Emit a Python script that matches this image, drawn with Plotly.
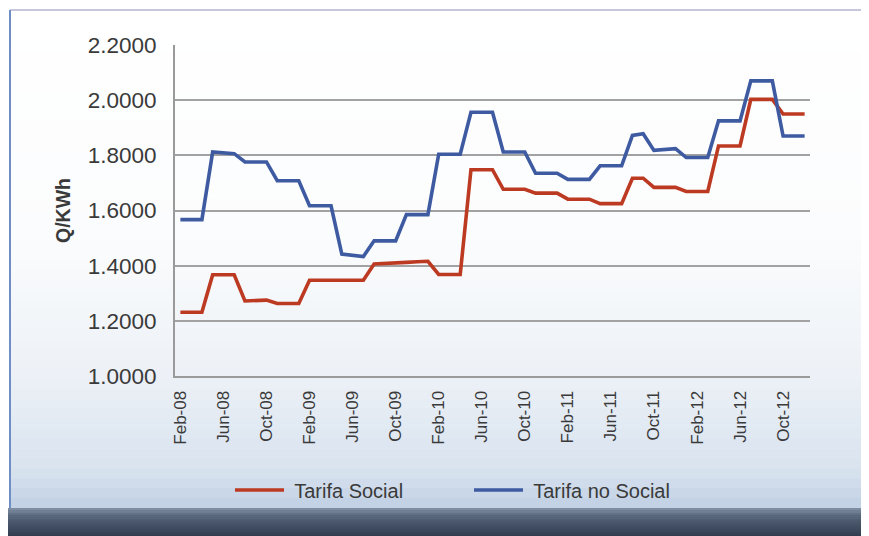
import plotly.graph_objects as go
import pandas as pd

# ---- data (monthly Feb-08 .. Dec-12) ----
months = pd.date_range("2008-02-01", periods=59, freq="MS").strftime("%b-%y").tolist()

tarifa_social = [
    1.231, 1.231, 1.231,          # Feb-Apr 08
    1.367, 1.367, 1.367,          # May-Jul 08
    1.272, 1.274, 1.275,          # Aug-Oct 08
    1.263, 1.263, 1.263,          # Nov 08-Jan 09
    1.347, 1.347, 1.347,          # Feb-Apr 09
    1.347, 1.347, 1.347,          # May-Jul 09
    1.406, 1.407, 1.408,          # Aug-Oct 09
    1.412, 1.414, 1.416,          # Nov 09-Jan 10
    1.368, 1.368, 1.368,          # Feb-Apr 10
    1.748, 1.748, 1.748,          # May-Jul 10
    1.677, 1.677, 1.677,
    1.663, 1.663, 1.663,
    1.641, 1.641, 1.641,
    1.625, 1.625, 1.625,
    1.717, 1.717,
    1.684, 1.684, 1.684,
    1.669, 1.669, 1.669,
    1.834, 1.834, 1.834,
    2.003, 2.003, 2.003,
    1.950, 1.950, 1.950,
]

tarifa_no_social = [
    1.567, 1.567, 1.567,
    1.812, 1.810, 1.806,
    1.776, 1.776, 1.776,
    1.708, 1.708, 1.708,
    1.617, 1.617, 1.617,
    1.442, 1.437, 1.433,
    1.490, 1.490, 1.490,
    1.585, 1.585, 1.585,
    1.804, 1.804, 1.804,
    1.956, 1.956, 1.956,
    1.812, 1.812, 1.812,
    1.735, 1.735, 1.735,
    1.713, 1.713, 1.713,
    1.762, 1.762, 1.762,
    1.872, 1.878,
    1.818, 1.821, 1.824,
    1.792, 1.792, 1.792,
    1.925, 1.925, 1.925,
    2.070, 2.070, 2.070,
    1.870, 1.870, 1.870,
]

tick_labels = months[::4]
y_ticks = [1.0, 1.2, 1.4, 1.6, 1.8, 2.0, 2.2]

RED = "#bd3a22"
BLUE = "#3e5ba2"

OFF = 8                      # page body margin
W, H = 869 - OFF, 536 - OFF  # figure size
# plot area, in page pixels
PL, PR, PT, PB = 175, 810, 45, 376
L, R, T, B = PL - OFF, PR - OFF, PT - OFF, PB - OFF
PW, PH = R - L, B - T


def px_x(px):   # page px -> paper x
    return (px - OFF - L) / PW


def px_y(py):   # page px -> paper y
    return (B - (py - OFF)) / PH


def hex2rgb(h):
    h = h.lstrip("#")
    return tuple(int(h[i:i + 2], 16) for i in (0, 2, 4))


def interp(stops, t):
    for (t0, c0), (t1, c1) in zip(stops, stops[1:]):
        if t0 <= t <= t1:
            f = 0 if t1 == t0 else (t - t0) / (t1 - t0)
            a, b = hex2rgb(c0), hex2rgb(c1)
            return "rgb(%d,%d,%d)" % tuple(round(a[i] + (b[i] - a[i]) * f) for i in range(3))
    return stops[-1][1]


shapes = []
# chart-area gradient background
bg_stops = [(0, "#ffffff"), (0.45, "#fbfcfd"), (0.72, "#eef2f7"), (0.92, "#d9e3ef"), (1.0, "#c0d0e4")]
top, bot, n = 11, 508, 50
for i in range(n):
    y0 = top + (bot - top) * i / n
    y1 = top + (bot - top) * (i + 1) / n
    shapes.append(dict(type="rect", xref="paper", yref="paper", layer="below",
                       x0=px_x(11), x1=px_x(870), y0=px_y(y1 + 0.5), y1=px_y(y0),
                       fillcolor=interp(bg_stops, (i + 0.5) / n), line=dict(width=0)))
# dark bottom band
dk_stops = [(0, "#8494a8"), (0.25, "#56647a"), (1.0, "#2f3b4d")]
top, bot, n = 508, 537, 14
for i in range(n):
    y0 = top + (bot - top) * i / n
    y1 = top + (bot - top) * (i + 1) / n
    shapes.append(dict(type="rect", xref="paper", yref="paper", layer="below",
                       x0=px_x(0), x1=px_x(870), y0=px_y(y1 + 0.5), y1=px_y(y0),
                       fillcolor=interp(dk_stops, (i + 0.5) / n), line=dict(width=0)))
# frame edges
shapes.append(dict(type="line", xref="paper", yref="paper", layer="below",
                   x0=px_x(10), x1=px_x(862), y0=px_y(10), y1=px_y(10),
                   line=dict(color="#c6c6dc", width=2)))
shapes.append(dict(type="line", xref="paper", yref="paper", layer="below",
                   x0=px_x(10), x1=px_x(10), y0=px_y(10), y1=px_y(508),
                   line=dict(color="#6f8fc4", width=2)))
shapes.append(dict(type="line", xref="paper", yref="paper", layer="below",
                   x0=px_x(862), x1=px_x(862), y0=px_y(10), y1=px_y(508),
                   line=dict(color="#d4dcea", width=2)))

fig = go.Figure()
fig.add_trace(go.Scatter(x=months, y=tarifa_social, mode="lines", name=" Tarifa Social",
                         line=dict(color=RED, width=3.6)))
fig.add_trace(go.Scatter(x=months, y=tarifa_no_social, mode="lines", name=" Tarifa no Social",
                         line=dict(color=BLUE, width=3.6)))

font_family = "Liberation Sans, Arial, sans-serif"
fig.update_layout(
    width=W, height=H,
    margin=dict(l=L, r=W - R, t=T, b=H - B, pad=0),
    paper_bgcolor="white",
    plot_bgcolor="rgba(0,0,0,0)",
    font=dict(family=font_family, color="#3a3a3a"),
    shapes=shapes,
    showlegend=True,
    legend=dict(orientation="h", xref="container", yref="container",
                x=(230 - OFF) / W, y=1 - (490 - OFF) / H, xanchor="left", yanchor="middle",
                font=dict(size=20, color="#3a3a3a"), itemwidth=49,
                entrywidth=175, entrywidthmode="pixels",
                bgcolor="rgba(0,0,0,0)"),
    xaxis=dict(type="category", range=[-0.5, len(months) - 0.5],
               tickmode="array", tickvals=tick_labels, ticktext=tick_labels,
               tickangle=-90, tickfont=dict(size=17, color="#3a3a3a"),
               showgrid=False, showline=True, linecolor="#9a9a9a", linewidth=2,
               ticks="", ticklabelstandoff=6, zeroline=False),
    yaxis=dict(range=[1.0, 2.2], tickvals=y_ticks, tickformat=".4f",
               tickfont=dict(size=22.5, color="#3a3a3a"),
               showgrid=True, gridcolor="#a2a2a2", gridwidth=1.6,
               showline=True, linecolor="#9a9a9a", linewidth=2,
               ticks="", ticklabelstandoff=12, zeroline=False,
               title=dict(text="<b>Q/KWh</b>", font=dict(size=19.5, color="#3a3a3a"), standoff=12)),
)

fig.write_html("out.html")
